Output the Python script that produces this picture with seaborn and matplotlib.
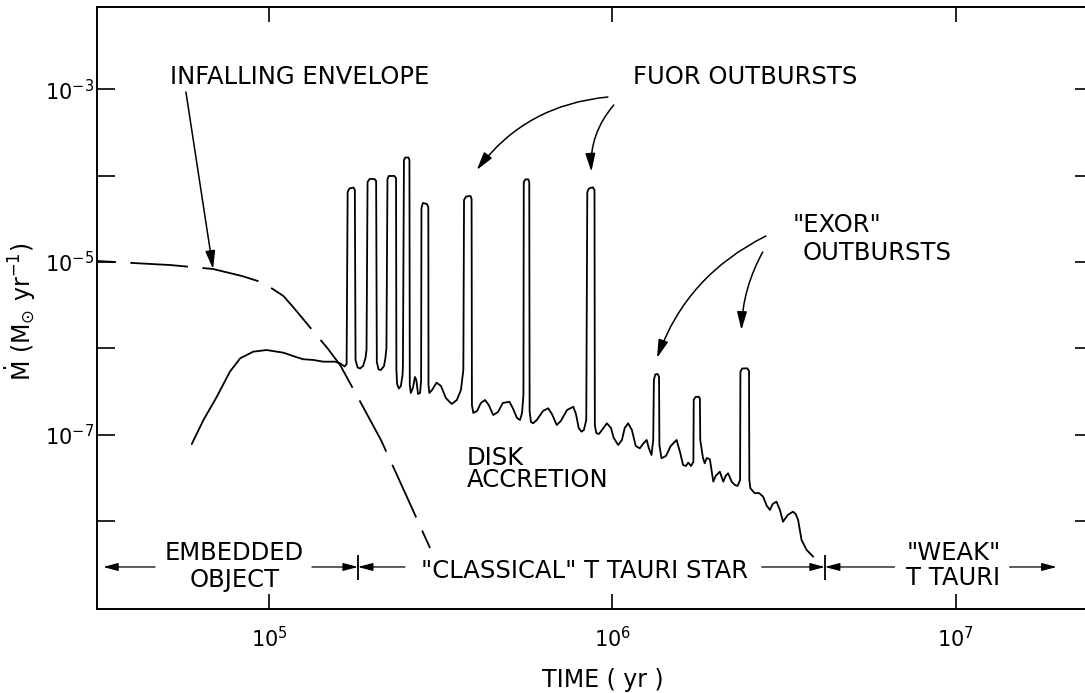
import numpy as np
import pandas as pd
import matplotlib
matplotlib.use("Agg")
import matplotlib.pyplot as plt
from matplotlib.ticker import FixedLocator, NullLocator, FuncFormatter
import seaborn as sns

# ---------------------------------------------------------------------------
# Disk accretion history: log10 time (yr) and log10 Mdot (Msun/yr).
# Quiescent hump, eight FU Ori bursts, then three EX Lupi bursts.
# ---------------------------------------------------------------------------
disk_log_t = [
    4.775, 4.809, 4.848, 4.886, 4.916, 4.954, 4.993, 5.042, 5.081, 5.100,
    5.129, 5.158, 5.192, 5.207, 5.220,
    # FU Ori 1
    5.226, 5.229, 5.234, 5.246, 5.250, 5.252, 5.258, 5.265, 5.274, 5.281,
    # FU Ori 2
    5.284, 5.287, 5.293, 5.307, 5.312, 5.314, 5.319, 5.326, 5.335, 5.339,
    # FU Ori 3
    5.342, 5.345, 5.349, 5.365, 5.370, 5.371, 5.373, 5.378, 5.384, 5.389,
    # FU Ori 4
    5.390, 5.393, 5.397, 5.406, 5.409, 5.410, 5.413, 5.419, 5.425, 5.429,
    5.434, 5.440, 5.443,
    # FU Ori 5
    5.444, 5.448, 5.460, 5.464, 5.4645, 5.467, 5.475, 5.488, 5.501, 5.515,
    5.532, 5.547, 5.559, 5.566,
    # FU Ori 6
    5.568, 5.574, 5.587, 5.590, 5.591, 5.595, 5.606, 5.617, 5.629, 5.640,
    5.653, 5.667, 5.681, 5.700, 5.710, 5.722, 5.731, 5.737, 5.741,
    # FU Ori 7
    5.742, 5.747, 5.755, 5.758, 5.759, 5.763, 5.769, 5.780, 5.798, 5.813,
    5.824, 5.838, 5.850, 5.868, 5.886, 5.894, 5.902, 5.910, 5.917, 5.924,
    # FU Ori 8
    5.927, 5.932, 5.943, 5.948, 5.949, 5.953, 5.961, 5.972, 5.984, 5.996,
    6.004, 6.017, 6.028, 6.036, 6.046, 6.057, 6.068, 6.080, 6.089, 6.100,
    6.106, 6.114, 6.119,
    # EXor 1
    6.121, 6.125, 6.132, 6.136, 6.137, 6.143, 6.156, 6.170, 6.187, 6.197,
    6.206, 6.214, 6.221, 6.229, 6.236,
    # EXor 2
    6.237, 6.242, 6.252, 6.255, 6.256, 6.264, 6.269, 6.275, 6.284, 6.294,
    6.301, 6.313, 6.323, 6.330, 6.337, 6.348, 6.357, 6.365, 6.372,
    # EXor 3 and final decline
    6.373, 6.378, 6.393, 6.398, 6.399, 6.402, 6.415, 6.427, 6.439, 6.450,
    6.459, 6.467, 6.478, 6.488, 6.497, 6.511, 6.526, 6.534, 6.541, 6.551,
    6.566, 6.585,
]
disk_log_mdot = [
    -7.109, -6.831, -6.561, -6.271, -6.116, -6.039, -6.020, -6.051, -6.104, -6.127,
    -6.135, -6.155, -6.155, -6.174, -6.211,
    -6.182, -4.189, -4.148, -4.137, -4.166, -6.135, -6.222, -6.234, -6.205, -6.112,
    -6.020, -4.073, -4.038, -4.038, -4.061, -6.159, -6.245, -6.251, -6.205, -6.112,
    -5.996, -4.038, -4.003, -4.003, -4.027, -6.251, -6.413, -6.466, -6.437, -6.309,
    -6.193, -3.818, -3.789, -3.789, -3.818, -6.425, -6.518, -6.460, -6.332, -6.367,
    -6.529, -6.518, -6.367,
    -4.374, -4.316, -4.328, -4.363, -6.425, -6.518, -6.483, -6.398, -6.437, -6.576,
    -6.645, -6.599, -6.483, -6.251,
    -4.281, -4.241, -4.235, -4.270, -6.657, -6.749, -6.726, -6.634, -6.599, -6.657,
    -6.773, -6.738, -6.634, -6.619, -6.692, -6.807, -6.831, -6.749, -6.541,
    -4.073, -4.042, -4.042, -4.073, -6.726, -6.854, -6.869, -6.831, -6.726, -6.695,
    -6.761, -6.889, -6.842, -6.715, -6.677, -6.761, -6.923, -6.966, -6.947, -6.831,
    -4.189, -4.148, -4.134, -4.166, -6.889, -6.981, -6.993, -6.935, -6.869, -6.923,
    -7.039, -7.120, -7.062, -6.923, -6.869, -6.947, -7.132, -7.159, -7.109, -7.062,
    -7.155, -7.236, -7.062,
    -6.367, -6.303, -6.298, -6.332, -7.120, -7.274, -7.248, -7.132, -7.062, -7.201,
    -7.352, -7.364, -7.325, -7.364, -7.317,
    -6.599, -6.564, -6.561, -6.587, -7.062, -7.271, -7.332, -7.271, -7.286, -7.545,
    -7.479, -7.430, -7.545, -7.479, -7.448, -7.549, -7.584, -7.595, -7.526,
    -6.274, -6.234, -6.232, -6.263, -7.526, -7.622, -7.680, -7.676, -7.719, -7.827,
    -7.873, -7.804, -7.777, -7.873, -8.009, -7.931, -7.893, -7.920, -7.989, -8.221,
    -8.337, -8.415,
]

# Infall rate from the collapsing envelope (log10 yr, log10 Msun/yr)
envelope_log_t = [4.499, 4.601, 4.712, 4.837, 4.921, 4.983, 5.042, 5.070,
                  5.172, 5.207, 5.274, 5.326, 5.370, 5.469]
envelope_log_mdot = [-4.988, -5.011, -5.035, -5.081, -5.162, -5.240, -5.394, -5.521,
                     -6.008, -6.193, -6.680, -7.062, -7.445, -8.314]

# Evolutionary phases: outer ends of the bar and the two boundaries (log10 yr)
phase_bar_ends = [4.517, 7.294]
phase_boundaries = [5.259, 6.619]

# Axis decades
x_decades = [5, 6, 7]
y_decades = [-8, -7, -6, -5, -4, -3]
y_labelled = [-7, -5, -3]


def P(lt, lm):
    return 10.0 ** lt, 10.0 ** lm


sns.set_theme(style="ticks")
plt.rcParams["font.family"] = ["DejaVu Sans"]
plt.rcParams["mathtext.fontset"] = "dejavusans"
plt.rcParams["axes.edgecolor"] = "black"
plt.rcParams["xtick.color"] = "black"
plt.rcParams["ytick.color"] = "black"
plt.rcParams["text.color"] = "black"
plt.rcParams["axes.labelcolor"] = "black"

fig = plt.figure(figsize=(10.85, 6.93), dpi=100)
fig.patch.set_facecolor("white")
ax = fig.add_axes([0.0894, 0.1212, 0.9180, 0.8687])
ax.set_facecolor("white")
ax.set_xscale("log")
ax.set_yscale("log")

disk = pd.DataFrame({"time": 10.0 ** np.array(disk_log_t),
                     "mdot": 10.0 ** np.array(disk_log_mdot)})
envelope = pd.DataFrame({"time": 10.0 ** np.array(envelope_log_t),
                         "mdot": 10.0 ** np.array(envelope_log_mdot)})

sns.lineplot(data=disk, x="time", y="mdot", sort=False, estimator=None,
             color="black", linewidth=1.3, ax=ax)
sns.lineplot(data=envelope, x="time", y="mdot", sort=False, estimator=None,
             color="black", linewidth=1.3, linestyle=(21.5, (32, 8)), ax=ax)

ax.set_xlim(10 ** 4.499, 10 ** 7.4)
ax.set_ylim(10 ** -9.021, 10 ** -2.045)

# ticks
ax.xaxis.set_major_locator(FixedLocator([10.0 ** k for k in x_decades]))
ax.xaxis.set_minor_locator(NullLocator())
ax.xaxis.set_major_formatter(
    FuncFormatter(lambda v, pos: rf"$10^{{{int(round(np.log10(v)))}}}$"))
ax.yaxis.set_major_locator(FixedLocator([10.0 ** k for k in y_decades]))
ax.yaxis.set_minor_locator(NullLocator())


def ylab(v, pos):
    k = int(round(np.log10(v)))
    return rf"$10^{{{k}}}$" if k in y_labelled else ""


ax.yaxis.set_major_formatter(FuncFormatter(ylab))
ax.tick_params(axis="x", which="major", direction="in", top=True, bottom=True,
               length=11, width=1.2, pad=12, labelsize=15)
ax.tick_params(axis="y", which="major", direction="in", left=True, right=True,
               length=13, width=1.2, pad=2, labelsize=15)
for s in ax.spines.values():
    s.set_linewidth(1.4)
    s.set_color("black")

ax.set_xlabel("TIME ( yr )", fontsize=17)
ax.xaxis.set_label_coords(0.508, -0.098)
ax.set_ylabel(r"$\dot{\mathrm{M}}\ (\mathrm{M}_{\odot}\ \mathrm{yr}^{-1})$", fontsize=17)
ax.yaxis.set_label_coords(-0.059, 0.493)

TXT = dict(fontsize=17.5, va="baseline")


def arrow(tip, tail, rad=0.0, hl=0.55, hw=0.15, lw=1.1):
    ax.annotate("", xy=P(*tip), xytext=P(*tail), xycoords="data", textcoords="data",
                arrowprops=dict(arrowstyle=f"-|>,head_length={hl},head_width={hw}",
                                color="black", lw=lw, shrinkA=0, shrinkB=0,
                                mutation_scale=20,
                                connectionstyle=f"arc3,rad={rad}"))


# annotations in the upper part
ax.text(*P(4.712, -2.937), "INFALLING ENVELOPE", ha="left", **TXT)
arrow((4.837, -5.081), (4.758, -3.030))

ax.text(*P(6.060, -2.937), "FUOR OUTBURSTS", ha="left", **TXT)
arrow((5.605, -3.934), (5.987, -3.088), rad=0.22)
arrow((5.939, -3.954), (6.004, -3.181), rad=0.2)

ax.text(*P(6.525, -4.652), '"EXOR"', ha="left", **TXT)
ax.text(*P(6.555, -4.977), "OUTBURSTS", ha="left", **TXT)
arrow((6.130, -6.112), (6.447, -4.699), rad=0.2)
arrow((6.376, -5.788), (6.438, -4.884), rad=0.12)

ax.text(*P(5.576, -7.352), "DISK", ha="left", **TXT)
ax.text(*P(5.576, -7.607), "ACCRETION", ha="left", **TXT)

# evolutionary phase bar
bar_y = -8.534
ax.vlines([10.0 ** b for b in phase_boundaries], 10 ** -8.395, 10 ** -8.685,
          color="black", lw=1.3)
small = dict(hl=0.45, hw=0.12, lw=0.9)
arrow((phase_bar_ends[0], bar_y), (4.668, bar_y), **small)
arrow((phase_boundaries[0], bar_y), (5.125, bar_y), **small)
arrow((phase_boundaries[0], bar_y), (5.396, bar_y), **small)
arrow((phase_boundaries[1], bar_y), (6.435, bar_y), **small)
arrow((phase_boundaries[1], bar_y), (6.822, bar_y), **small)
arrow((phase_bar_ends[1], bar_y), (7.157, bar_y), **small)

ax.text(*P(4.900, -8.453), "EMBEDDED", ha="center", **TXT)
ax.text(*P(4.900, -8.766), "OBJECT", ha="center", **TXT)
ax.text(*P(5.920, -8.661), '"CLASSICAL" T TAURI STAR', ha="center", **TXT)
ax.text(*P(6.993, -8.453), '"WEAK"', ha="center", **TXT)
ax.text(*P(6.993, -8.742), "T TAURI", ha="center", **TXT)

fig.savefig("out.png", dpi=100, facecolor="white")
